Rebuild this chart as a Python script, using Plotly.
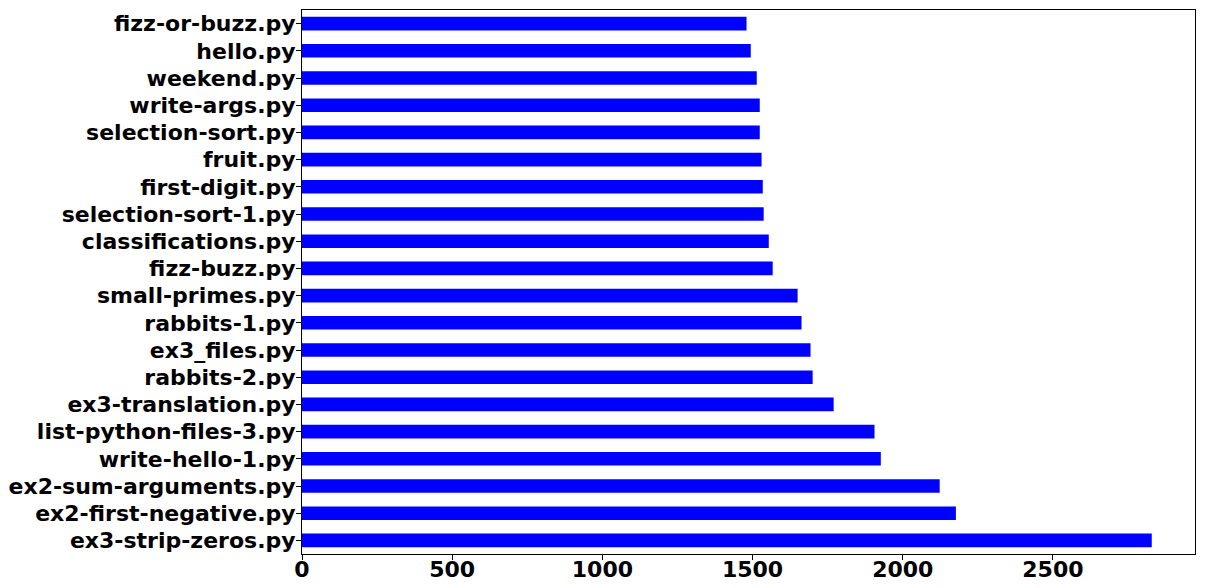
import plotly.graph_objects as go

files = ["ex3-strip-zeros.py", "ex2-first-negative.py", "ex2-sum-arguments.py",
         "write-hello-1.py", "list-python-files-3.py", "ex3-translation.py",
         "rabbits-2.py", "ex3_files.py", "rabbits-1.py", "small-primes.py",
         "fizz-buzz.py", "classifications.py", "selection-sort-1.py",
         "first-digit.py", "fruit.py", "selection-sort.py", "write-args.py",
         "weekend.py", "hello.py", "fizz-or-buzz.py"]
counts = [2829, 2177, 2123, 1927, 1906, 1770, 1700, 1693, 1663, 1650,
          1567, 1554, 1537, 1534, 1530, 1524, 1524, 1514, 1494, 1480]
x_ticks = [0, 500, 1000, 1500, 2000, 2500]

fig = go.Figure(go.Bar(x=counts, y=files, orientation="h",
                       marker=dict(color="#0000ff", line=dict(width=0))))

font = dict(family="DejaVu Sans", size=22, color="black", weight="bold")
fig.update_layout(
    width=1205, height=588,
    margin=dict(l=302, r=10, t=10, b=34),
    plot_bgcolor="white", paper_bgcolor="white",
    bargap=0.5, showlegend=False,
    font=font,
)
fig.update_xaxes(range=[0, 2973], tickvals=x_ticks, ticks="outside", ticklen=5,
                 tickcolor="black", showline=True, linecolor="black", linewidth=1,
                 mirror=True, showgrid=False, zeroline=False, tickfont=font,
                 automargin=False, ticklabelstandoff=-9)
fig.update_yaxes(range=[-0.5, 19.5], ticks="outside", ticklen=5, tickcolor="black",
                 showline=True, linecolor="black", linewidth=1, mirror=True,
                 showgrid=False, tickfont=font, automargin=False,
                 categoryorder="array", categoryarray=files, ticklabelstandoff=-4)
fig.write_html("out.html", config={"displayModeBar": False},
               post_script="document.body.style.margin='0px';document.body.style.padding='0px';")
